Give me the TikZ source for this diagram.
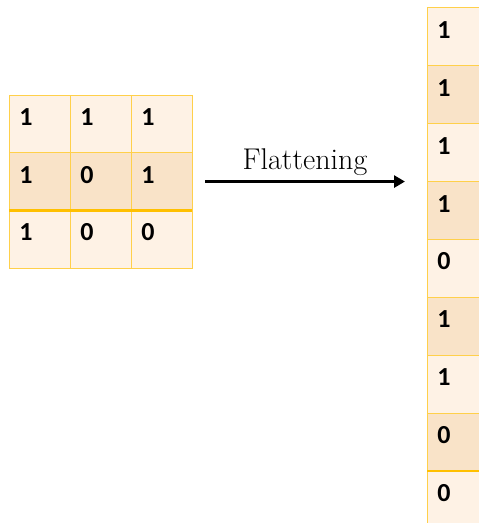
\documentclass[tikz,border=0pt]{standalone}
\usepackage{fontspec}
\newfontfamily\cellfont{Carlito}
\usepackage{tikz}
\usetikzlibrary{positioning, arrows.meta}
\usepackage{xcolor}
\definecolor{CellLight}{HTML}{FEF2E5}
\definecolor{CellDark}{HTML}{F9E3C8}
\definecolor{GridLine}{HTML}{FFD04A}
\definecolor{GridBold}{HTML}{FFC000}

\begin{document}
\begin{tikzpicture}[
    x=1pt, y=-1pt,
    cell/.style={draw=GridLine, line width=1pt, minimum width=61pt, minimum height=57.7pt, inner sep=0pt, outer sep=0pt},
    light/.style={fill=CellLight},
    dark/.style={fill=CellDark},
    digit/.style={inner sep=0pt, font=\cellfont\bfseries\fontsize{26}{26}\selectfont},
    boldline/.style={draw=GridBold, line width=2.6pt},
    flow/.style={-{Triangle[length=11pt, width=12pt]}, line width=3pt, black}
]
\useasboundingbox (0,0) rectangle (479,523);
\clip (0,0) rectangle (479,523);

% 3x3 input matrix
\foreach \a/\b/\c [count=\i] in {1/1/1, 1/0/1, 1/0/0} {
  \foreach \v [count=\j] in {\a,\b,\c} {
    \ifnum\i=2 \def\shade{dark}\else\def\shade{light}\fi
    \node[cell, \shade] (c\i\j) at ({39.5+61*(\j-1)}, {123.85+57.7*(\i-1)}) {};
    \node[digit] (d\i\j) at ([shift={(17,22)}]c\i\j.north west) {\v};
  }
}
\draw[boldline] (c21.south west) -- (c23.south east);

% flattened column
\foreach \v [count=\k] in {1,1,1,1,0,1,1,0,0} {
  \ifodd\k \def\shade{light}\else\def\shade{dark}\fi
  \node[cell, \shade, minimum height=57.9pt] (v\k) at (457.5, {36.9+57.875*(\k-1)}) {};
  \node[digit] (e\k) at ([shift={(17,22)}]v\k.north west) {\v};
}
\draw[boldline] (v8.south west) -- (v8.south east);

% arrow
\coordinate (tip) at (c23.east -| v1.west);
\draw[flow] ([xshift=13pt]c23.east) -- node[above=4pt, inner sep=0pt, font=\fontsize{30}{34}\selectfont] (lbl) {Flattening} ([xshift=-22pt]tip);

\end{tikzpicture}
\end{document}
